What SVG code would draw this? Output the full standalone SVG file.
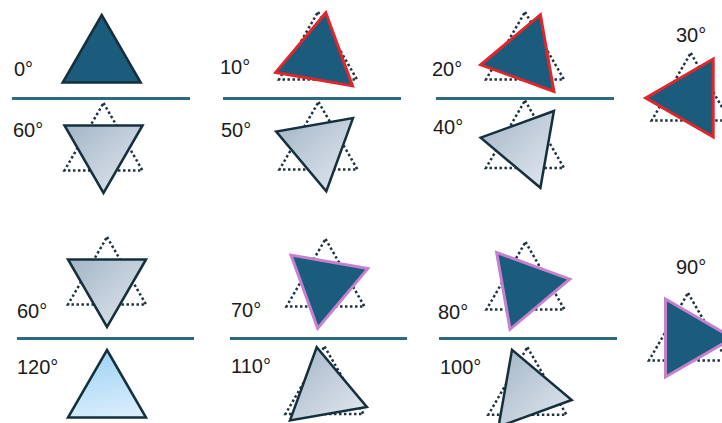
<svg xmlns="http://www.w3.org/2000/svg" width="722" height="423" viewBox="0 0 722 423">
<defs>
<linearGradient id="gGrey" x1="0" y1="0" x2="1" y2="1">
<stop offset="0" stop-color="#a3b5c7"/>
<stop offset="1" stop-color="#e3e9f0"/>
</linearGradient>
<linearGradient id="gLight" x1="0.3" y1="0" x2="0.5" y2="1">
<stop offset="0" stop-color="#9dd2f5"/>
<stop offset="1" stop-color="#d8edfb"/>
</linearGradient>
</defs>
<style>
.ghost{fill:none;stroke:#1f3440;stroke-width:2.5;stroke-dasharray:2.5 2.5}
.dark{fill:#1b5b7b;stroke:#15303c;stroke-width:2.5;stroke-linejoin:miter}
.red{fill:#1b5b7b;stroke:#e1262b;stroke-width:3;stroke-linejoin:miter}
.violet{fill:#1b5b7b;stroke:#c680d2;stroke-width:3;stroke-linejoin:miter}
.grey{fill:url(#gGrey);stroke:#15303c;stroke-width:2.5;stroke-linejoin:miter}
.light{fill:url(#gLight);stroke:#15303c;stroke-width:2.5;stroke-linejoin:miter}
.axis{stroke:#2d6a80;stroke-width:3}
text{font-family:"Liberation Sans",Arial,sans-serif;font-size:20px;fill:#1a1a1a}
</style>
<g id="connectors">
<line class="axis" x1="12" y1="98.5" x2="190" y2="98.5"/>
<line class="axis" x1="223" y1="98.5" x2="401" y2="98.5"/>
<line class="axis" x1="436" y1="98.5" x2="614" y2="98.5"/>
<line class="axis" x1="17" y1="338.5" x2="194" y2="338.5"/>
<line class="axis" x1="230" y1="338.5" x2="407" y2="338.5"/>
<line class="axis" x1="439" y1="338.5" x2="617" y2="338.5"/>
</g>
<g id="n0">
<polygon class="dark" points="101.7,15 140.7,82.5 62.7,82.5"/>
<text x="14" y="76">0°</text>
</g>
<g id="n60a">
<polygon class="ghost" points="103.5,103 142.5,170.5 64.5,170.5"/>
<polygon class="grey" points="142.5,125.5 103.5,193 64.5,125.5"/>
<text x="13" y="137">60°</text>
</g>
<g id="n10">
<polygon class="ghost" points="318,12 357,79.5 279,79.5"/>
<polygon class="red" points="325.8,12.7 352.5,85.9 275.7,72.4"/>
<text x="220" y="74">10°</text>
</g>
<g id="n50">
<polygon class="ghost" points="318.5,102 357.5,169.5 279.5,169.5"/>
<polygon class="grey" points="353,118.1 326.3,191.3 276.2,131.6"/>
<text x="221" y="137">50°</text>
</g>
<g id="n20">
<polygon class="ghost" points="525,12 564,79.5 486,79.5"/>
<polygon class="red" points="540.4,14.7 553.9,91.5 480.7,64.8"/>
<text x="432" y="76">20°</text>
</g>
<g id="n40">
<polygon class="ghost" points="525,100.5 564,168 486,168"/>
<polygon class="grey" points="553.9,111 540.4,187.8 480.7,137.7"/>
<text x="433" y="134">40°</text>
</g>
<g id="n30">
<polygon class="ghost" points="690.7,53 729.7,120.5 651.7,120.5"/>
<polygon class="red" points="713.2,59 713.2,137 645.7,98"/>
<text x="676" y="42">30°</text>
</g>
<g id="n60b">
<polygon class="ghost" points="107,237 146,304.5 68,304.5"/>
<polygon class="grey" points="146,259.5 107,327 68,259.5"/>
<text x="17" y="318">60°</text>
</g>
<g id="n120">
<polygon class="light" points="107,350 146,417.5 68,417.5"/>
<text x="17" y="373.5">120°</text>
</g>
<g id="n70">
<polygon class="ghost" points="325.5,239 364.5,306.5 286.5,306.5"/>
<polygon class="violet" points="367.8,268.6 317.7,328.3 291,255.1"/>
<text x="231" y="317">70°</text>
</g>
<g id="n110">
<polygon class="ghost" points="324.5,346.5 363.5,414 285.5,414"/>
<polygon class="grey" points="366.8,406.9 290,420.4 316.7,347.2"/>
<text x="231" y="373">110°</text>
</g>
<g id="n80">
<polygon class="ghost" points="525.5,242 564.5,309.5 486.5,309.5"/>
<polygon class="violet" points="569.8,279.2 510.1,329.3 496.6,252.5"/>
<text x="438" y="318.5">80°</text>
</g>
<g id="n100">
<polygon class="ghost" points="527.4,347.2 566.4,414.7 488.4,414.7"/>
<polygon class="grey" points="571.7,400 498.5,426.7 512,349.9"/>
<text x="440" y="374">100°</text>
</g>
<g id="n90">
<polygon class="ghost" points="688,293 727,360.5 649,360.5"/>
<polygon class="violet" points="733,338 665.5,377 665.5,299"/>
<text x="676" y="273.5">90°</text>
</g>
</svg>
